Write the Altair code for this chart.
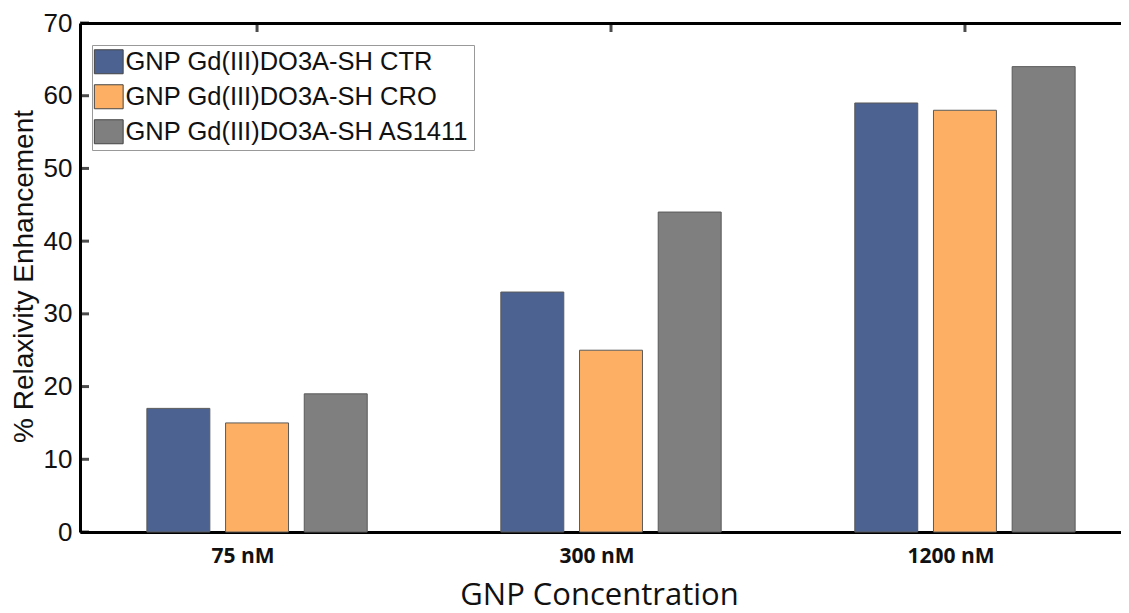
import altair as alt
import pandas as pd

# values
concentrations = ["75 nM", "300 nM", "1200 nM"]
series = [
    "GNP Gd(III)DO3A-SH CTR",
    "GNP Gd(III)DO3A-SH CRO",
    "GNP Gd(III)DO3A-SH AS1411",
]
ctr_values = [17, 33, 59]
cro_values = [15, 25, 58]
as1411_values = [19, 44, 64]
y_ticks = [0, 10, 20, 30, 40, 50, 60, 70]

colors = ["#4C6290", "#FDB063", "#7F7F7F"]

rows = []
for s, vals in zip(series, [ctr_values, cro_values, as1411_values]):
    for c, v in zip(concentrations, vals):
        rows.append({"concentration": c, "series": s, "value": v})
df = pd.DataFrame(rows)
df_ticks = pd.DataFrame({"tick": y_ticks})
df_cats = pd.DataFrame({"concentration": concentrations})

# the original plot runs past the right edge of the picture
x_scale = alt.Scale(
    domain=concentrations, range=[0, 1062], paddingInner=0.333, paddingOuter=0.1667
)
y_scale = alt.Scale(domain=[0, 70], nice=False)

bars = alt.Chart(df).mark_bar(stroke="#5a5a5a", strokeWidth=1).encode(
    x=alt.X(
        "concentration:N",
        scale=x_scale,
        sort=concentrations,
        axis=alt.Axis(
            title="GNP Concentration",
            orient="bottom",
            labelAngle=0,
            labelFont="Open Sans",
            labelFontWeight="bold",
            labelFontSize=21,
            labelColor="#111",
            labelPadding=13,
            labelOffset=-14,
            ticks=False,
            tickSize=0,
            domainColor="black",
            domainWidth=3,
            titleFont="Open Sans",
            titleFontWeight="normal",
            titleFontSize=31,
            titleColor="#111",
            titleX=519,
            titleY=63,
            titleBaseline="middle",
        ),
    ),
    xOffset=alt.XOffset(
        "series:N",
        sort=series,
        scale=alt.Scale(domain=series, paddingInner=0.2, paddingOuter=0.1),
    ),
    y=alt.Y(
        "value:Q",
        scale=y_scale,
        axis=alt.Axis(
            title="% Relaxivity Enhancement",
            values=y_ticks,
            labelFont="Liberation Sans",
            labelFontSize=26,
            labelColor="#111",
            labelPadding=8,
            ticks=False,
            tickSize=0,
            grid=False,
            domainColor="black",
            domainWidth=3,
            titleFont="Liberation Sans",
            titleFontWeight="normal",
            titleFontSize=28,
            titleColor="#111",
            titleAngle=-90,
            titleX=-56,
            titleY=253,
            titleAlign="center",
            titleBaseline="middle",
        ),
    ),
    color=alt.Color(
        "series:N",
        sort=series,
        scale=alt.Scale(domain=series, range=colors),
        legend=alt.Legend(
            title=None,
            orient="none",
            legendX=12,
            legendY=22,
            direction="vertical",
            padding=4,
            rowPadding=6,
            fillColor="white",
            strokeColor="#999",
            symbolType="M-1.2,-1H1.2V1H-1.2Z",
            symbolSize=576,
            symbolStrokeColor="#444",
            symbolStrokeWidth=1,
            labelFont="Liberation Sans",
            labelFontSize=25.5,
            labelColor="#111",
            labelOffset=4,
            labelLimit=500,
        ),
    ),
)

# inward ticks on the left axis
y_marks = alt.Chart(df_ticks).mark_tick(
    color="black", size=9, thickness=3, orient="horizontal"
).encode(
    y=alt.Y("tick:Q", scale=y_scale),
    x=alt.value(4.5),
)

# top frame line with inward ticks at each category
top_marks = alt.Chart(df_cats).mark_tick(
    color="black", size=9, thickness=3, orient="vertical"
).encode(
    x=alt.X(
        "concentration:N",
        scale=x_scale,
        sort=concentrations,
        axis=alt.Axis(
            orient="top",
            title=None,
            labels=False,
            ticks=False,
            domainColor="black",
            domainWidth=3,
        ),
    ),
    y=alt.value(4.5),
)

chart = alt.layer(bars, y_marks, top_marks).resolve_axis(
    x="independent"
).properties(
    width=1041,
    height=509,
    autosize=alt.AutoSizeParams(type="none"),
    padding={"left": 72, "top": 15, "right": 0, "bottom": 81},
).configure_view(
    stroke=None,
)

chart.save("out.html", embed_options={"renderer": "svg", "actions": False})
